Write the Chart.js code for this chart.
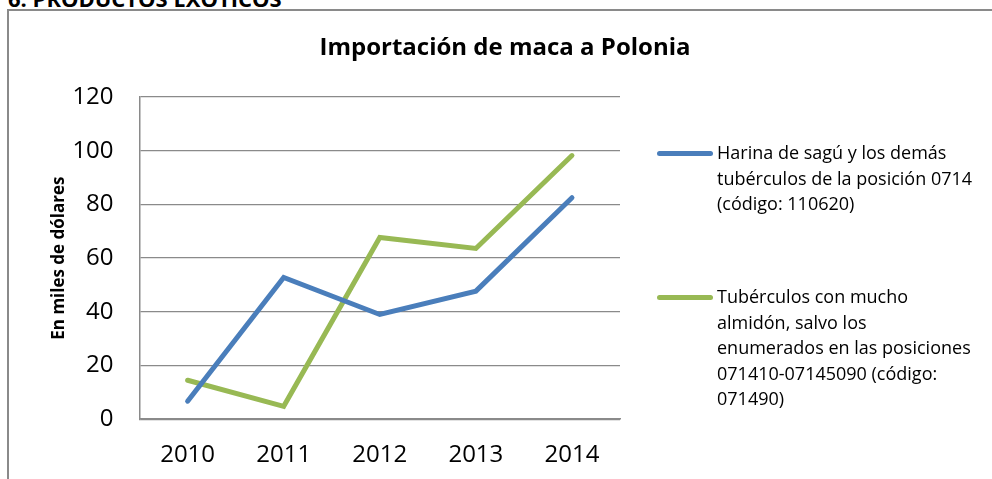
<!DOCTYPE html>
<html>
<head>
<meta charset="utf-8">
<script src="https://cdn.jsdelivr.net/npm/chart.js@4.4.1/dist/chart.umd.min.js"></script>
<style>
  html, body { margin: 0; padding: 0; background: #fff; overflow: hidden; width: 992px; height: 479px; }
  .heading { position: absolute; left: 8px; top: -17px; font: bold 22px "Open Sans", sans-serif; color: #000; }
  .frame { position: absolute; left: 7px; top: 9px; width: 1000px; height: 490px; border-left: 2px solid #8a8a8a; border-top: 2px solid #8a8a8a; }
  .frame canvas { position: absolute; left: 0; top: 0; }
  .legend { position: absolute; left: 657px; top: 0; font: 18px "Open Sans", sans-serif; color: #000; }
  .legend .item { position: absolute; left: 0; width: 330px; }
  .legend .swatch { position: absolute; left: 0; width: 56px; height: 5px; border-radius: 3px; }
  .legend .text { position: absolute; left: 60px; line-height: 25.5px; white-space: pre; }
</style>
</head>
<body>
<div class="heading">6. PRODUCTOS EXÓTICOS</div>
<div class="frame"><canvas id="chart" width="992" height="490"></canvas></div>
<div class="legend" id="legend"></div>
<script>
// ─── Data ────────────────────────────────────────────────────────────────────
const YEARS = ['2010', '2011', '2012', '2013', '2014'];
const HARINA = [6.7, 52.8, 39.0, 47.7, 82.5];
const TUBERCULOS = [14.5, 4.8, 67.7, 63.6, 98.2];
const LABELS = [
  'Harina de sagú y los demás\ntubérculos de la posición 0714\n(código: 110620)',
  'Tubérculos con mucho\nalmidón, salvo los\nenumerados en las posiciones\n071410-07145090 (código:\n071490)',
];
const TITLE = 'Importación de maca a Polonia';
const Y_TITLE = 'En miles de dólares';

const COLORS = ['#4a7ebb', '#98b954'];
const FONT = 'Open Sans';

// title centred over the whole frame, not just the plot
const frameTitle = {
  id: 'frameTitle',
  afterDraw(chart) {
    const ctx = chart.ctx;
    ctx.save();
    ctx.font = `bold 24px "${FONT}"`;
    ctx.fillStyle = '#000';
    ctx.textAlign = 'center';
    ctx.textBaseline = 'middle';
    ctx.fillText(TITLE, chart.width / 2, 37);
    ctx.restore();
  },
};

// ─── Chart ───────────────────────────────────────────────────────────────────
const chart = new Chart(document.getElementById('chart'), {
  type: 'line',
  data: {
    labels: YEARS,
    datasets: [HARINA, TUBERCULOS].map((data, i) => ({
      label: LABELS[i],
      data,
      borderColor: COLORS[i],
      backgroundColor: COLORS[i],
      borderWidth: 5,
      pointRadius: 0,
      tension: 0,
      fill: false,
      borderCapStyle: 'round',
      borderJoinStyle: 'miter',
    })),
  },
  plugins: [frameTitle],
  options: {
    responsive: false,
    animation: false,
    layout: { padding: { left: 17, top: 86, right: 381, bottom: 9 } },
    plugins: {
      legend: { display: false },
      tooltip: { enabled: false },
      title: { display: false },
    },
    scales: {
      x: {
        offset: true,
        grid: { display: false, drawTicks: false },
        border: { display: true, color: '#8a8a8a', width: 1.5 },
        ticks: { color: '#000', font: { family: FONT, size: 24 }, padding: 22 },
      },
      y: {
        min: 0,
        max: 120,
        ticks: { stepSize: 20, color: '#000', font: { family: FONT, size: 24 }, padding: 26 },
        grid: { color: '#8a8a8a', lineWidth: 1.3, drawTicks: false },
        border: { display: true, color: '#8a8a8a', width: 1.5 },
        title: {
          display: true,
          text: Y_TITLE,
          color: '#000',
          font: { family: FONT, size: 17, weight: 'bold' },
          padding: { top: 23, bottom: -23 },
        },
      },
    },
  },
});

// ─── HTML legend ─────────────────────────────────────────────────────────────
const LEGEND_TOPS = [140, 284];
const legendEl = document.getElementById('legend');
LABELS.forEach((txt, i) => {
  const item = document.createElement('div');
  item.className = 'item';
  item.style.top = LEGEND_TOPS[i] + 'px';
  item.innerHTML = `<div class="swatch" style="background:${COLORS[i]};top:11px"></div><div class="text">${txt}</div>`;
  legendEl.appendChild(item);
});
</script>
</body>
</html>
